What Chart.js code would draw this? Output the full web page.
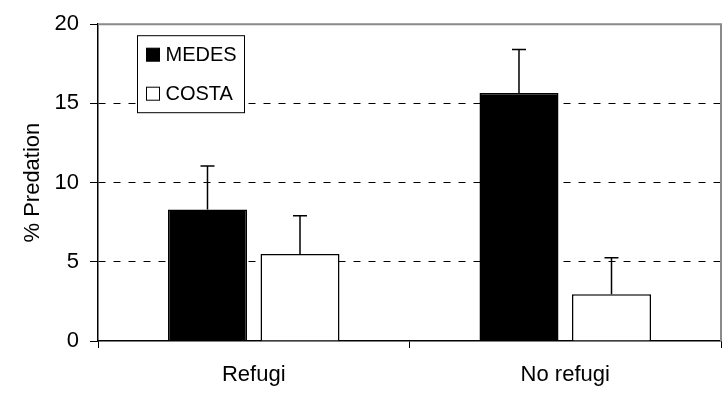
<!DOCTYPE html>
<html>
<head>
<meta charset="utf-8">
<script src="https://cdn.jsdelivr.net/npm/chart.js@4/dist/chart.umd.min.js"></script>
<style>
  html, body { margin: 0; padding: 0; background: #fff; }
  #wrap { width: 728px; height: 395px; position: relative; }
</style>
</head>
<body>
<div id="wrap"><canvas id="chart"></canvas></div>
<script>
// data
const categories = ['Refugi', 'No refugi'];
const seriesNames = ['MEDES', 'COSTA'];
const medesValues = [8.3, 15.65];
const costaValues = [5.5, 2.95];
const medesErr = [2.75, 2.75];
const costaErr = [2.4, 2.3];
const yTicks = [0, 5, 10, 15, 20];

const FONT = "'Liberation Sans', Arial, sans-serif";

// upward-only error whiskers with a cap
const errorBars = {
  id: 'errorBars',
  afterDatasetsDraw(chart){
    const ctx = chart.ctx;
    const y = chart.scales.y;
    chart.data.datasets.forEach((ds, di) => {
      const meta = chart.getDatasetMeta(di);
      meta.data.forEach((bar, i) => {
        const top = y.getPixelForValue(ds.data[i] + ds.err[i]);
        ctx.save();
        ctx.strokeStyle = '#000';
        ctx.lineWidth = 1.5;
        ctx.beginPath();
        ctx.moveTo(bar.x, bar.y);
        ctx.lineTo(bar.x, top);
        ctx.moveTo(bar.x - 7, top);
        ctx.lineTo(bar.x + 7, top);
        ctx.stroke();
        ctx.restore();
      });
    });
  }
};

// grey frame on top and right of the plot area
const frame = {
  id: 'frame',
  beforeDatasetsDraw(chart){
    const a = chart.chartArea, ctx = chart.ctx;
    ctx.save();
    ctx.strokeStyle = '#8a8a8a';
    ctx.lineWidth = 2;
    ctx.beginPath();
    ctx.moveTo(a.left, a.top);
    ctx.lineTo(a.right, a.top);
    ctx.lineTo(a.right, a.bottom);
    ctx.stroke();
    ctx.restore();
  }
};

// boxed legend inside the plot area
const boxLegend = {
  id: 'boxLegend',
  afterDraw(chart){
    const ctx = chart.ctx, a = chart.chartArea;
    const x = a.left + 39.5, y = a.top + 11.5, w = 107, h = 77;
    ctx.save();
    ctx.fillStyle = '#fff';
    ctx.fillRect(x, y, w, h);
    ctx.strokeStyle = '#000';
    ctx.lineWidth = 1;
    ctx.strokeRect(x, y, w, h);
    ctx.font = '20px ' + FONT;
    ctx.textBaseline = 'middle';
    chart.data.datasets.forEach((ds, i) => {
      const cy = y + 19 + i * 39;
      ctx.fillStyle = ds.backgroundColor;
      ctx.fillRect(x + 9, cy - 6.5, 13, 13);
      ctx.strokeStyle = '#000';
      ctx.lineWidth = 1;
      ctx.strokeRect(x + 9, cy - 6.5, 13, 13);
      ctx.fillStyle = '#000';
      ctx.fillText(ds.label, x + 28, cy + 1);
    });
    ctx.restore();
  }
};

new Chart(document.getElementById('chart'), {
  type: 'bar',
  data: {
    labels: categories,
    datasets: [
      { label: seriesNames[0], data: medesValues, err: medesErr,
        backgroundColor: '#000', borderColor: '#000', borderWidth: 1.5 },
      { label: seriesNames[1], data: costaValues, err: costaErr,
        backgroundColor: '#fff', borderColor: '#000', borderWidth: 1.5 }
    ]
  },
  options: {
    responsive: true,
    maintainAspectRatio: false,
    animation: false,
    events: [],
    layout: { padding: { top: 23, right: 7, left: 0, bottom: 0 } },
    datasets: { bar: { categoryPercentage: 0.594, barPercentage: 0.854 } },
    plugins: { legend: { display: false }, tooltip: { enabled: false } },
    scales: {
      x: {
        afterFit: s => { s.height = 54; },
        grid: { drawOnChartArea: false, drawTicks: true, tickLength: 7, tickColor: '#000', tickWidth: 1 },
        border: { color: '#000', width: 1.5 },
        ticks: { color: '#000', font: { family: FONT, size: 22 }, padding: 14, maxRotation: 0 }
      },
      y: {
        min: 0, max: 20,
        afterFit: s => { s.width = 98; },
        afterBuildTicks: s => { s.ticks = yTicks.map(v => ({ value: v })); },
        grid: {
          color: c => [5, 10, 15].includes(c.tick.value) ? '#000' : 'rgba(0,0,0,0)',
          lineWidth: 1,
          tickLength: 8, tickColor: '#000', tickWidth: 1
        },
        border: { color: '#000', width: 1.5, dash: [7, 8] },
        ticks: { color: '#000', font: { family: FONT, size: 22 }, padding: 11 },
        title: { display: true, text: '% Predation', color: '#000',
                 font: { family: FONT, size: 22 }, padding: { top: 20, bottom: 0 } }
      }
    }
  },
  plugins: [frame, errorBars, boxLegend]
});
</script>
</body>
</html>
